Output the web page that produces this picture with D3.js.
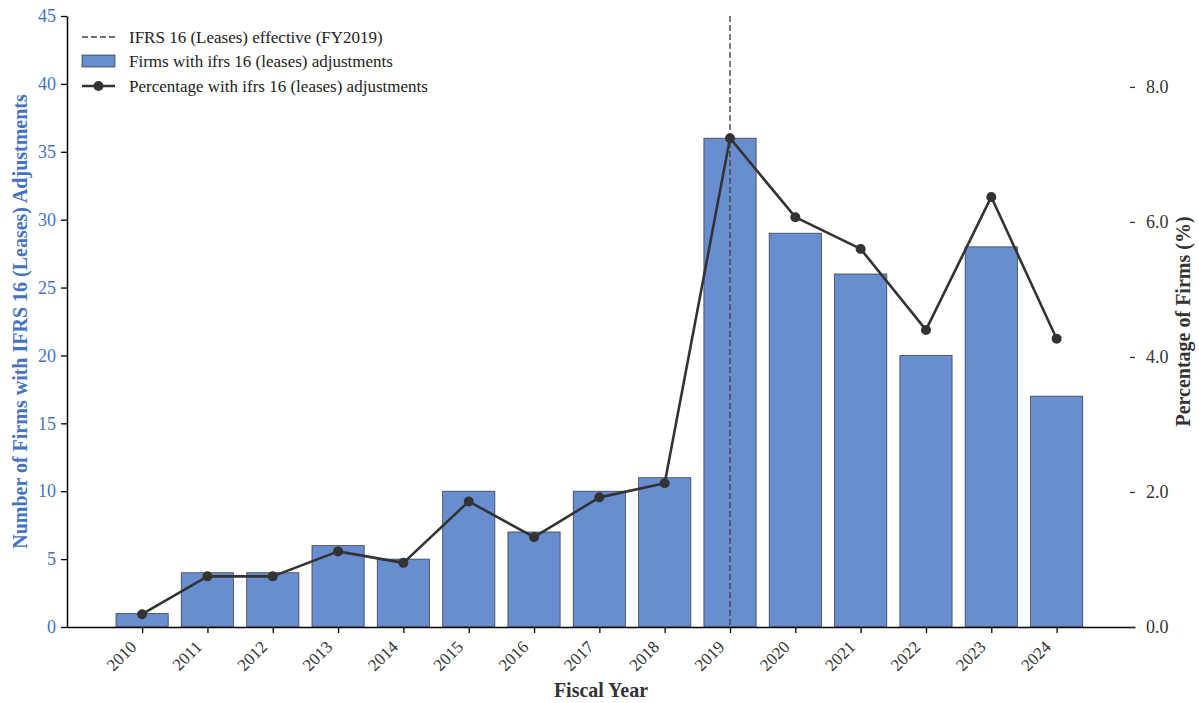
<!DOCTYPE html>
<html>
<head>
<meta charset="utf-8">
<script src="https://cdn.jsdelivr.net/npm/d3@7"></script>
<style>
  html, body { margin: 0; padding: 0; background: #fff; }
  svg { display: block; font-family: "Liberation Serif", "Times New Roman", serif; }
  svg text { font-family: "Liberation Serif", "Times New Roman", serif; }
</style>
</head>
<body>
<svg id="chart" width="1199" height="703"></svg>
<script>
// Fiscal years and series
const years = ["2010","2011","2012","2013","2014","2015","2016","2017","2018","2019","2020","2021","2022","2023","2024"];
const firmCounts = [1, 4, 4, 6, 5, 10, 7, 10, 11, 36, 29, 26, 20, 28, 17];
const pctFirms = [0.19, 0.75, 0.75, 1.12, 0.95, 1.86, 1.33, 1.92, 2.13, 7.24, 6.07, 5.60, 4.40, 6.37, 4.27];
const leftTicks = [0, 5, 10, 15, 20, 25, 30, 35, 40, 45];
const rightTicks = [0, 2, 4, 6, 8];
const effectiveYear = "2019";

const blue = "#4472C4";
const lineColor = "#333333";
const serif = "'Liberation Serif', 'Times New Roman', serif";

const svg = d3.select("#chart");
const m = { left: 67, right: 1135, top: 16, bottom: 627 };

// Bar positions by index, with an outer margin on both sides
const x = d3.scaleLinear().domain([-1.15, years.length - 1 + 1.2]).range([m.left, m.right]);
const barW = x(0.8) - x(0);
const yL = d3.scaleLinear().domain([0, d3.max(firmCounts) * 1.25]).range([m.bottom, m.top]);
const yR = d3.scaleLinear().domain([0, d3.max(pctFirms) * 1.25]).range([m.bottom, m.top]);

// Bars
svg.append("g").selectAll("rect").data(firmCounts).join("rect")
  .attr("x", (d, i) => x(i) - barW / 2)
  .attr("y", d => yL(d))
  .attr("width", barW)
  .attr("height", d => yL(0) - yL(d))
  .attr("fill", blue).attr("fill-opacity", 0.8)
  .attr("stroke", "#222").attr("stroke-opacity", 0.7).attr("stroke-width", 0.9);

// Dashed marker for the standard's effective year
const ei = years.indexOf(effectiveYear);
svg.append("line")
  .attr("x1", x(ei)).attr("x2", x(ei))
  .attr("y1", m.top).attr("y2", m.bottom)
  .attr("stroke", "#444").attr("stroke-width", 1.4)
  .attr("stroke-dasharray", "6,3");

// Percentage line
const line = d3.line().x((d, i) => x(i)).y(d => yR(d));
svg.append("path").datum(pctFirms)
  .attr("d", line).attr("fill", "none")
  .attr("stroke", lineColor).attr("stroke-width", 2.6).attr("stroke-linejoin", "round");
svg.append("g").selectAll("circle").data(pctFirms).join("circle")
  .attr("cx", (d, i) => x(i)).attr("cy", d => yR(d)).attr("r", 5)
  .attr("fill", lineColor);

// Bottom axis
const xAxis = svg.append("g").attr("transform", `translate(0,${m.bottom})`)
  .call(d3.axisBottom(x).tickValues(d3.range(years.length)).tickFormat(i => years[i]).tickSize(6).tickSizeOuter(0))
  .attr("font-family", serif);
xAxis.select(".domain").attr("stroke", "#000").attr("stroke-width", 1.5);
xAxis.selectAll(".tick line").attr("stroke", "#000").attr("stroke-width", 1.3);
xAxis.selectAll(".tick text")
  .attr("font-size", 17).attr("fill", "#333")
  .attr("text-anchor", "end")
  .attr("transform", "translate(-5,21) rotate(-45)")
  .attr("dy", 0).attr("y", 0);

// Left axis
const yAxisL = svg.append("g").attr("transform", `translate(${m.left},0)`)
  .call(d3.axisLeft(yL).tickValues(leftTicks).tickSize(6).tickSizeOuter(0).tickPadding(5))
  .attr("font-family", serif);
yAxisL.select(".domain").attr("stroke", "#000").attr("stroke-width", 1.5);
yAxisL.selectAll(".tick line").attr("stroke", "#000").attr("stroke-width", 1.3);
yAxisL.selectAll(".tick text").attr("font-size", 18).attr("fill", blue);

// Right axis (ticks only)
const yAxisR = svg.append("g").attr("transform", `translate(${m.right},0)`)
  .call(d3.axisRight(yR).tickValues(rightTicks).tickFormat(d3.format(".1f")).tickSize(6).tickSizeOuter(0).tickPadding(5))
  .attr("font-family", serif);
yAxisR.select(".domain").remove();
yAxisR.selectAll(".tick line").attr("stroke", "#333").attr("stroke-width", 1.3).attr("x1", -5).attr("x2", 0);
yAxisR.selectAll(".tick text").attr("font-size", 18).attr("fill", "#333");

// Axis titles
svg.append("text")
  .attr("transform", `translate(27,${(m.top + m.bottom) / 2}) rotate(-90)`)
  .attr("text-anchor", "middle").attr("font-size", 20).attr("font-weight", "bold")
  .attr("fill", blue).text("Number of Firms with IFRS 16 (Leases) Adjustments");
svg.append("text")
  .attr("transform", `translate(1190,${(m.top + m.bottom) / 2}) rotate(-90)`)
  .attr("text-anchor", "middle").attr("font-size", 20).attr("font-weight", "bold")
  .attr("fill", "#333").text("Percentage of Firms (%)");
svg.append("text")
  .attr("x", (m.left + m.right) / 2).attr("y", 697)
  .attr("text-anchor", "middle").attr("font-size", 20).attr("font-weight", "bold")
  .attr("fill", "#333").text("Fiscal Year");

// Legend
const legend = svg.append("g").attr("font-size", 17).attr("fill", "#222");
const rows = [
  { type: "dash", label: "IFRS 16 (Leases) effective (FY2019)", y: 37 },
  { type: "bar", label: "Firms with ifrs 16 (leases) adjustments", y: 61 },
  { type: "line", label: "Percentage with ifrs 16 (leases) adjustments", y: 86 }
];
rows.forEach(r => {
  if (r.type === "dash") {
    legend.append("line").attr("x1", 82).attr("x2", 115).attr("y1", r.y).attr("y2", r.y)
      .attr("stroke", "#444").attr("stroke-width", 1.4).attr("stroke-dasharray", "6,3");
  } else if (r.type === "bar") {
    legend.append("rect").attr("x", 82).attr("y", r.y - 6).attr("width", 33).attr("height", 12)
      .attr("fill", blue).attr("fill-opacity", 0.8)
      .attr("stroke", "#222").attr("stroke-opacity", 0.7).attr("stroke-width", 0.9);
  } else {
    legend.append("line").attr("x1", 82).attr("x2", 115).attr("y1", r.y).attr("y2", r.y)
      .attr("stroke", lineColor).attr("stroke-width", 2.6);
    legend.append("circle").attr("cx", 98.5).attr("cy", r.y).attr("r", 5).attr("fill", lineColor);
  }
  legend.append("text").attr("x", 129).attr("y", r.y).attr("dy", "0.35em").text(r.label);
});
</script>
</body>
</html>
